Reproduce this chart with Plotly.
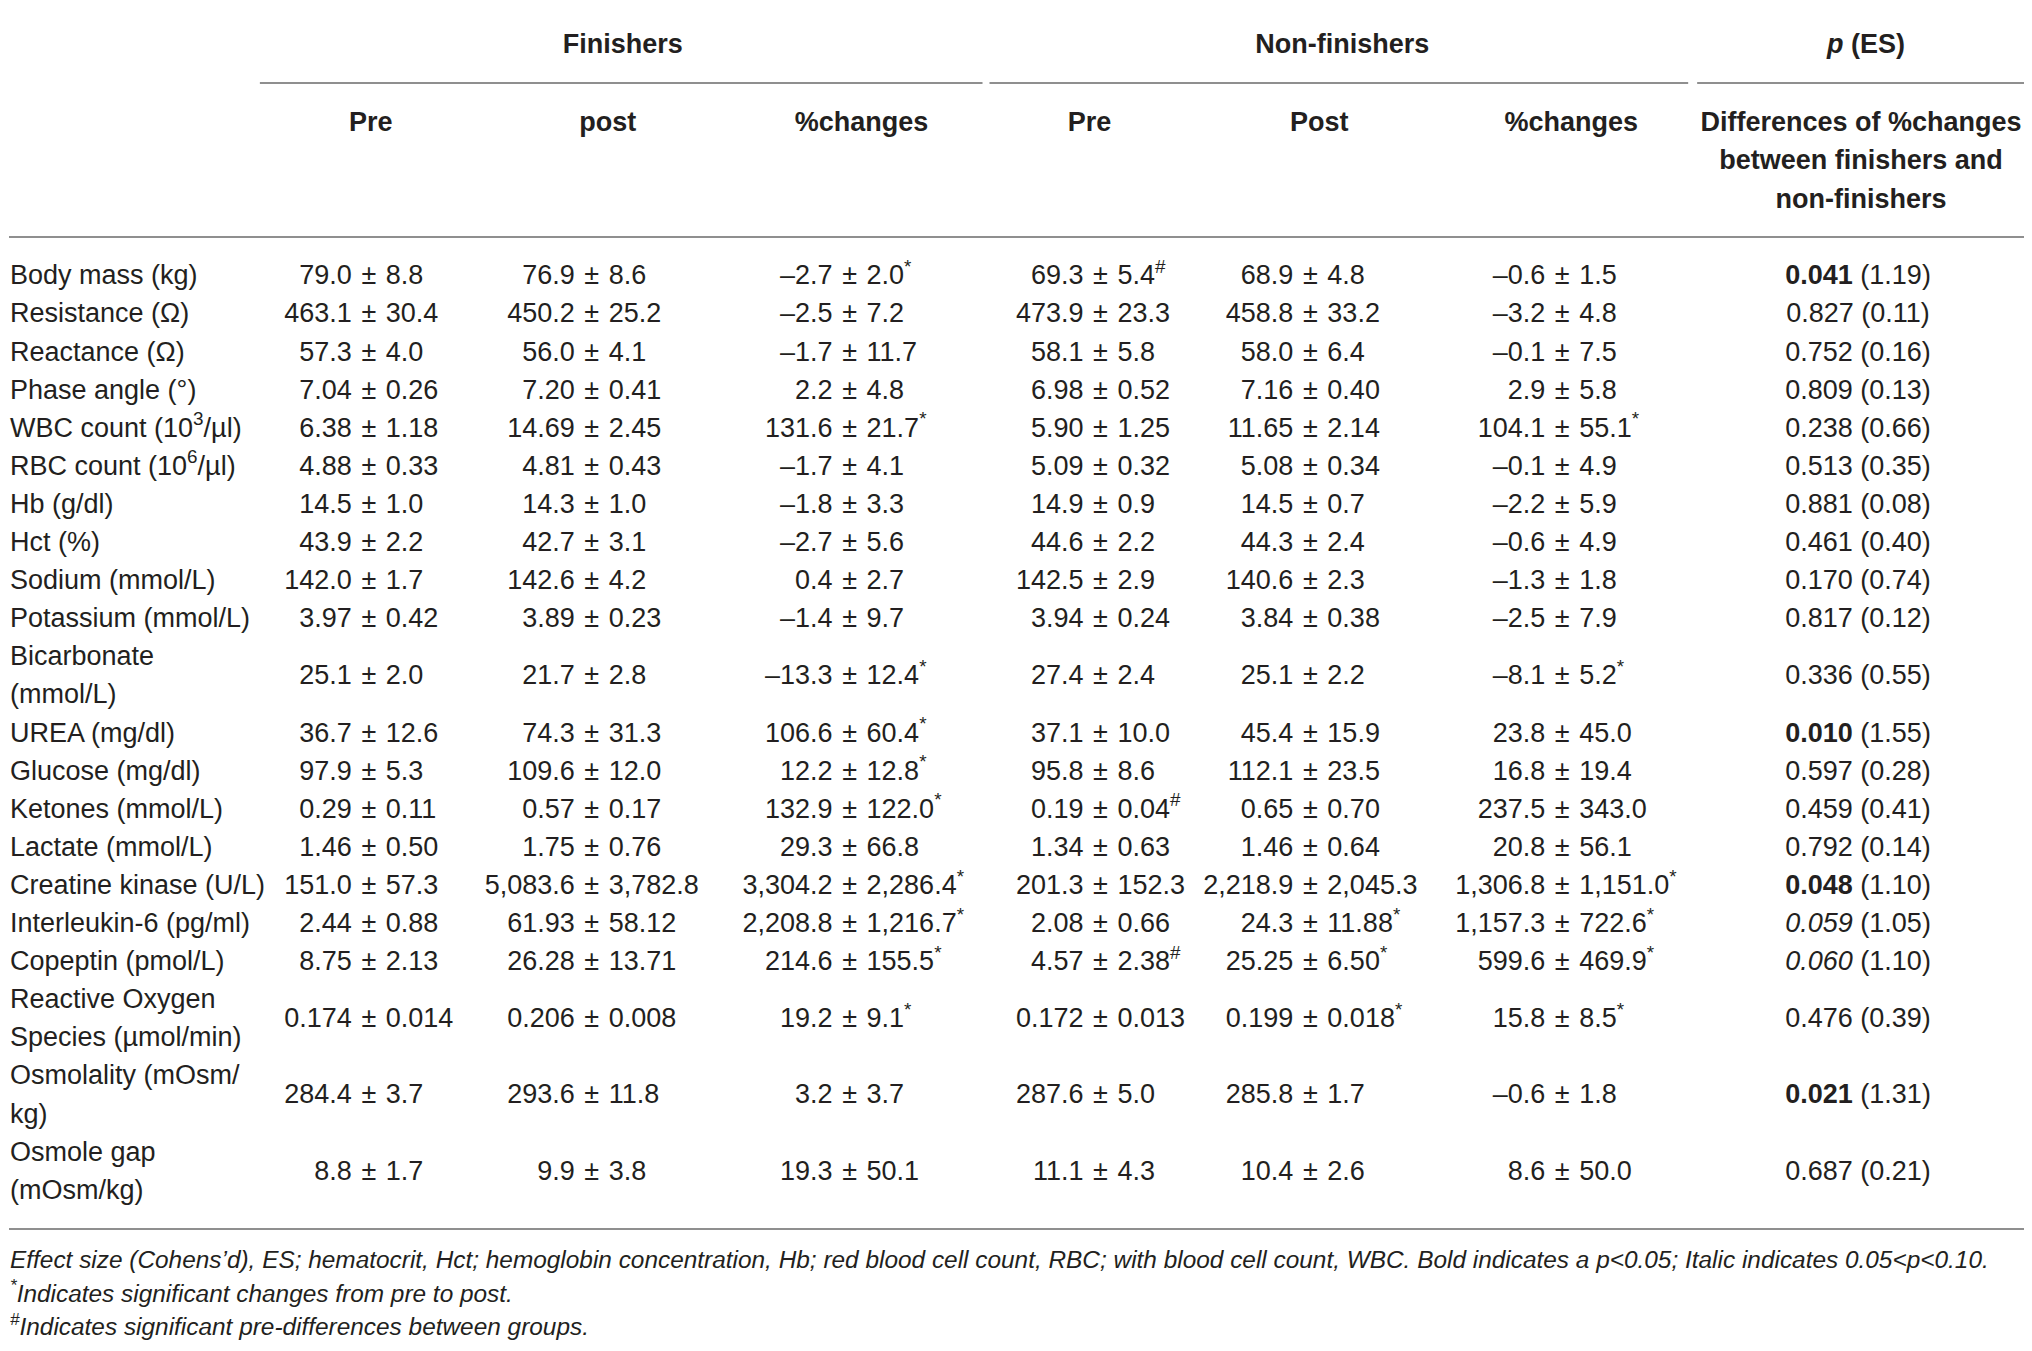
import plotly.graph_objects as go

labels = ["Body mass (kg)", "Resistance (Ω)", "Reactance (Ω)", "Phase angle (°)",
          "WBC count (10<sup>3</sup>/µl)", "RBC count (10<sup>6</sup>/µl)", "Hb (g/dl)", "Hct (%)",
          "Sodium (mmol/L)", "Potassium (mmol/L)", "Bicarbonate<br>(mmol/L)", "UREA (mg/dl)",
          "Glucose (mg/dl)", "Ketones (mmol/L)", "Lactate (mmol/L)", "Creatine kinase (U/L)",
          "Interleukin-6 (pg/ml)", "Copeptin (pmol/L)", "Reactive Oxygen<br>Species (µmol/min)",
          "Osmolality (mOsm/<br>kg)", "Osmole gap<br>(mOsm/kg)"]

fin_pre = ["79.0 ± 8.8", "463.1 ± 30.4", "57.3 ± 4.0", "7.04 ± 0.26", "6.38 ± 1.18", "4.88 ± 0.33",
           "14.5 ± 1.0", "43.9 ± 2.2", "142.0 ± 1.7", "3.97 ± 0.42", "25.1 ± 2.0", "36.7 ± 12.6",
           "97.9 ± 5.3", "0.29 ± 0.11", "1.46 ± 0.50", "151.0 ± 57.3", "2.44 ± 0.88", "8.75 ± 2.13",
           "0.174 ± 0.014", "284.4 ± 3.7", "8.8 ± 1.7"]
fin_post = ["76.9 ± 8.6", "450.2 ± 25.2", "56.0 ± 4.1", "7.20 ± 0.41", "14.69 ± 2.45", "4.81 ± 0.43",
            "14.3 ± 1.0", "42.7 ± 3.1", "142.6 ± 4.2", "3.89 ± 0.23", "21.7 ± 2.8", "74.3 ± 31.3",
            "109.6 ± 12.0", "0.57 ± 0.17", "1.75 ± 0.76", "5,083.6 ± 3,782.8", "61.93 ± 58.12",
            "26.28 ± 13.71", "0.206 ± 0.008", "293.6 ± 11.8", "9.9 ± 3.8"]
fin_chg = ["–2.7 ± 2.0*", "–2.5 ± 7.2", "–1.7 ± 11.7", "2.2 ± 4.8", "131.6 ± 21.7*", "–1.7 ± 4.1",
           "–1.8 ± 3.3", "–2.7 ± 5.6", "0.4 ± 2.7", "–1.4 ± 9.7", "–13.3 ± 12.4*", "106.6 ± 60.4*",
           "12.2 ± 12.8*", "132.9 ± 122.0*", "29.3 ± 66.8", "3,304.2 ± 2,286.4*", "2,208.8 ± 1,216.7*",
           "214.6 ± 155.5*", "19.2 ± 9.1*", "3.2 ± 3.7", "19.3 ± 50.1"]
non_pre = ["69.3 ± 5.4#", "473.9 ± 23.3", "58.1 ± 5.8", "6.98 ± 0.52", "5.90 ± 1.25", "5.09 ± 0.32",
           "14.9 ± 0.9", "44.6 ± 2.2", "142.5 ± 2.9", "3.94 ± 0.24", "27.4 ± 2.4", "37.1 ± 10.0",
           "95.8 ± 8.6", "0.19 ± 0.04#", "1.34 ± 0.63", "201.3 ± 152.3", "2.08 ± 0.66", "4.57 ± 2.38#",
           "0.172 ± 0.013", "287.6 ± 5.0", "11.1 ± 4.3"]
non_post = ["68.9 ± 4.8", "458.8 ± 33.2", "58.0 ± 6.4", "7.16 ± 0.40", "11.65 ± 2.14", "5.08 ± 0.34",
            "14.5 ± 0.7", "44.3 ± 2.4", "140.6 ± 2.3", "3.84 ± 0.38", "25.1 ± 2.2", "45.4 ± 15.9",
            "112.1 ± 23.5", "0.65 ± 0.70", "1.46 ± 0.64", "2,218.9 ± 2,045.3", "24.3 ± 11.88*",
            "25.25 ± 6.50*", "0.199 ± 0.018*", "285.8 ± 1.7", "10.4 ± 2.6"]
non_chg = ["–0.6 ± 1.5", "–3.2 ± 4.8", "–0.1 ± 7.5", "2.9 ± 5.8", "104.1 ± 55.1*", "–0.1 ± 4.9",
           "–2.2 ± 5.9", "–0.6 ± 4.9", "–1.3 ± 1.8", "–2.5 ± 7.9", "–8.1 ± 5.2*", "23.8 ± 45.0",
           "16.8 ± 19.4", "237.5 ± 343.0", "20.8 ± 56.1", "1,306.8 ± 1,151.0*", "1,157.3 ± 722.6*",
           "599.6 ± 469.9*", "15.8 ± 8.5*", "–0.6 ± 1.8", "8.6 ± 50.0"]
p_vals = ["0.041", "0.827", "0.752", "0.809", "0.238", "0.513", "0.881", "0.461", "0.170", "0.817",
          "0.336", "0.010", "0.597", "0.459", "0.792", "0.048", "0.059", "0.060", "0.476", "0.021", "0.687"]
es_vals = ["1.19", "0.11", "0.16", "0.13", "0.66", "0.35", "0.08", "0.40", "0.74", "0.12", "0.55",
           "1.55", "0.28", "0.41", "0.14", "1.10", "1.05", "1.10", "0.39", "1.31", "0.21"]

groups = ["Finishers", "Non-finishers", "<i>p</i> (ES)"]
subheads = ["Pre", "post", "%changes", "Pre", "Post", "%changes",
            "Differences of %changes<br>between finishers and<br>non-finishers"]
notes = ["Effect size (Cohens’d), ES; hematocrit, Hct; hemoglobin concentration, Hb; red blood cell count, RBC; "
         "with blood cell count, WBC. Bold indicates a p<0.05; Italic indicates 0.05<p<0.10.",
         "<sup>*</sup>Indicates significant changes from pre to post.",
         "<sup>#</sup>Indicates significant pre-differences between groups."]

# layout (page pixel coordinates)
W, H = 2032, 1351
FONT = "Liberation Sans, Arial, Helvetica, sans-serif"
INK = "#231f20"
RULE = "#8f8f8f"
FS = 27
LINE_H = 38.1
BODY_TOP = 258.5
LABEL_X = 9
PM_X = [368, 591, 849, 1100, 1310, 1562]
PM_GAP = 17
P_X = 1858
GROUP_X = [622, 1342, 1866]
SUB_X = [370, 607, 861, 1089, 1319, 1571, 1861]

fig = go.Figure()


def text_trace(xs, ys, texts, pos, size=FS):
    fig.add_trace(go.Scatter(x=xs, y=ys, text=texts, mode="text", textposition=pos,
                             textfont=dict(family=FONT, size=size, color=INK),
                             hoverinfo="skip", showlegend=False, cliponaxis=False))


def sup(s):
    for m in "*#":
        if s.endswith(m):
            return s[:-1] + "<sup>" + m + "</sup>"
    return s


# row positions from number of lines per label
row_y, lab_x, lab_y, lab_t = [], [], [], []
top = BODY_TOP
for lab in labels:
    parts = lab.split("<br>")
    for i, part in enumerate(parts):
        lab_x.append(LABEL_X)
        lab_y.append(top + LINE_H * (i + 0.5))
        lab_t.append(part)
    row_y.append(top + LINE_H * len(parts) / 2)
    top += LINE_H * len(parts)
body_bottom = top

text_trace(lab_x, lab_y, lab_t, "middle right")

for col, cx in zip([fin_pre, fin_post, fin_chg, non_pre, non_post, non_chg], PM_X):
    left = [v.split(" ± ")[0] for v in col]
    right = [sup(v.split(" ± ")[1]) for v in col]
    text_trace([cx - PM_GAP] * len(col), row_y, left, "middle left")
    text_trace([cx] * len(col), row_y, ["±"] * len(col), "middle center")
    text_trace([cx + PM_GAP] * len(col), row_y, right, "middle right")

p_text = []
for p, es in zip(p_vals, es_vals):
    v = float(p)
    if v < 0.05:
        p_text.append(f"<b>{p}</b> ({es})")
    elif v < 0.10:
        p_text.append(f"<i>{p}</i> ({es})")
    else:
        p_text.append(f"{p} ({es})")
text_trace([P_X] * len(p_text), row_y, p_text, "middle center")

# headers
text_trace(GROUP_X, [46] * 3, ["<b>" + g + "</b>" for g in groups], "middle center")
sx, sy, st = [], [], []
for x, s in zip(SUB_X, subheads):
    for i, part in enumerate(s.split("<br>")):
        sx.append(x)
        sy.append(124 + 38.5 * i)
        st.append("<b>" + part + "</b>")
text_trace(sx, sy, st, "middle center")

# footnotes
nx, ny, nt = [], [], []
for i, n in enumerate(notes):
    nx.append(LABEL_X)
    ny.append(1262 + 33.5 * i)
    nt.append("<i>" + n + "</i>")
text_trace(nx, ny, nt, "middle right", size=24.4)

# rules
rules = [(8, 2025, 7), (259, 982, 83), (989, 1688, 83), (1697, 2025, 83),
         (8, 2025, 237), (8, 2025, body_bottom + 18)]
for x0, x1, y in rules:
    fig.add_shape(type="line", xref="x", yref="y", x0=x0, x1=x1, y0=y, y1=y,
                  line=dict(color=RULE, width=2))

# page body has an 8px margin, so axes are laid out in page pixels
fig.update_layout(width=W - 16, height=H - 16, margin=dict(l=0, r=0, t=0, b=0),
                  paper_bgcolor="white", plot_bgcolor="white")
fig.update_xaxes(range=[7, W - 8], visible=False, fixedrange=True)
fig.update_yaxes(range=[H - 8, 8], visible=False, fixedrange=True)

fig.write_html("out.html")
